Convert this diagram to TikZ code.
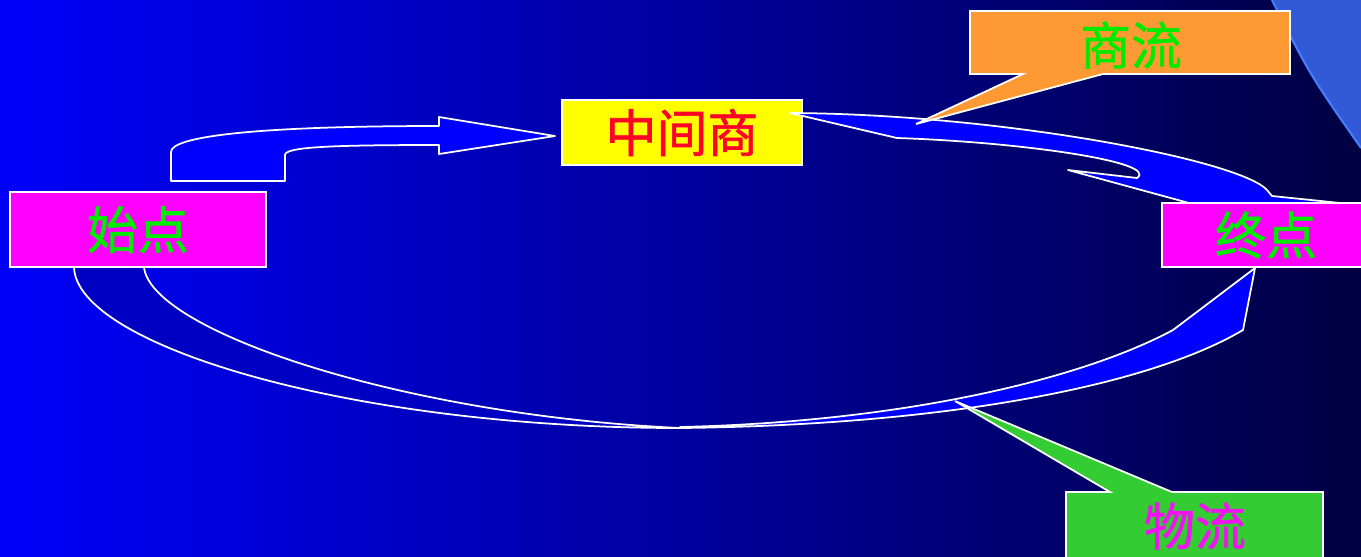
\documentclass[tikz,border=0pt]{standalone}
\usepackage{fontspec}
\newfontfamily\cjk[FakeBold=1.2]{Noto Sans CJK SC}
\usepackage{tikz}
\usetikzlibrary{arrows.meta,positioning,calc}

\definecolor{bgleft}{RGB}{0,0,250}
\definecolor{bgright}{RGB}{0,0,66}
\definecolor{arcblue}{RGB}{50,90,214}
\definecolor{arcedge}{RGB}{70,125,255}
\definecolor{flowblue}{RGB}{0,0,255}
\definecolor{flowdark}{RGB}{0,0,195}
\definecolor{boxmag}{RGB}{255,0,255}
\definecolor{boxyel}{RGB}{255,255,0}
\definecolor{boxorange}{RGB}{255,153,51}
\definecolor{boxgreen}{RGB}{51,204,51}
\definecolor{txtgreen}{RGB}{0,235,0}
\definecolor{txtred}{RGB}{255,0,40}
\definecolor{txtmag}{RGB}{240,20,240}

\begin{document}
\begin{tikzpicture}[
      x=0.02cm, y=-0.02cm,
      every node/.style={font=\cjk\fontsize{29}{29}\selectfont, inner sep=0pt},
      box/.style={rectangle,draw=white,line width=1pt},
      flow/.style={fill=flowblue,draw=white,line width=1pt,line join=round},
      callout/.style={draw=white,line width=1pt,line join=miter}
  ]

  % ===================== background =====================
  \useasboundingbox (0,0) rectangle (1361,556);
  \clip (0,0) rectangle (1361,556);
  \shade[left color=bgleft, right color=bgright] (0,0) rectangle (1361,556);

  % arc in the upper right corner
  \fill[arcblue] (1272,0) .. controls (1310,75) .. (1361,148) -- (1361,0) -- cycle;
  \draw[arcedge, line width=1.2pt] (1272,0) .. controls (1310,75) .. (1361,148);

  % ===================== start -> middleman =====================
  \draw[flow] (171,181) -- (171,152) .. controls (171,136) and (260,126) .. (439,126)
              -- (439,117) -- (555,136) -- (439,154) -- (439,145)
              .. controls (330,145) and (285,147) .. (285,155) -- (285,181) -- cycle;

  % middleman
  \node[box,fill=boxyel,minimum width=4.8cm,minimum height=1.3cm,text=txtred]
      (mid) at (682,132.5) {中间商};

  % ===================== middleman <-> end (upper ribbon) =====================
  \draw[flow] (790,113) .. controls (1000,114) and (1240,160) .. (1267,190)
              -- (1272,196) -- (1350,204) -- (1350,215) -- (1233,215) -- (1068,170)
              -- (1137,178) .. controls (1160,162) and (1020,142) .. (897,138) -- cycle;

  % ===================== start -> end (lower ribbon) =====================
  % back side of the twisted ribbon
  \draw[fill=flowdark,draw=white,line width=1pt]
      (74,267) .. controls (76,345) and (350,428) .. (680,428)
      .. controls (400,415) and (150,330) .. (144,267);
  % front side with the head
  \draw[flow] (680,427) .. controls (900,422) and (1080,380) .. (1173,330)
              -- (1255,268) -- (1243,330)
              .. controls (1150,385) and (950,425) .. (680,428) -- cycle;

  % ===================== start / end boxes =====================
  \node[box,fill=boxmag,minimum width=5.12cm,minimum height=1.5cm,text=txtgreen]
      (start) at (138,229.5) {始点};
  \node[box,fill=boxmag,minimum width=4.16cm,minimum height=1.28cm,text=txtgreen]
      (end) at (1266,235) {终点};

  % ===================== callouts =====================
  \draw[callout,fill=boxorange] (970,11) -- (1290,11) -- (1290,74) -- (1103,74)
      -- (916,124) -- (1023,74) -- (970,74) -- cycle;
  \node[text=txtgreen] (shangliu) at (1131,45) {商流};

  \draw[callout,fill=boxgreen] (1066,492) -- (1110,492) -- (955,401) -- (1172,492)
      -- (1323,492) -- (1323,562) -- (1066,562) -- cycle;
  \node[text=txtmag] (wuliu) at (1195,526) {物流};

\end{tikzpicture}
\end{document}
